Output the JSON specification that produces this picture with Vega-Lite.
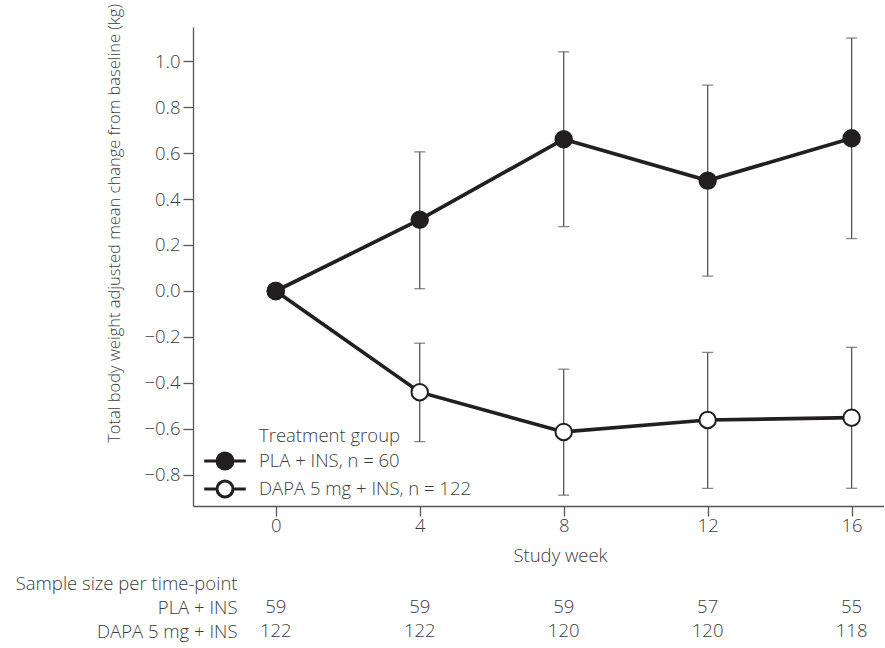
{
  "$schema": "https://vega.github.io/schema/vega-lite/v6.json",
  "padding": {"left": 15, "top": 3, "right": 0, "bottom": 0},
  "background": "white",
  "config": {
    "font": "Open Sans",
    "view": {"stroke": null},
    "axis": {
      "labelFont": "Open Sans", "labelFontSize": 18.5, "labelColor": "#3d3d3d", "labelFontWeight": 300, "labelLimit": 400,
      "titleFont": "Open Sans", "titleFontSize": 18.5, "titleColor": "#3d3d3d", "titleFontWeight": 300,
      "domainColor": "#555555", "tickColor": "#555555", "domainWidth": 1.3, "tickWidth": 1.3, "grid": false
    },
    "legend": {
      "labelFont": "Open Sans", "labelFontSize": 18.5, "labelColor": "#3d3d3d", "labelFontWeight": 300, "labelLimit": 400,
      "titleFont": "Open Sans", "titleFontSize": 18.5, "titleColor": "#3d3d3d", "titleFontWeight": 300
    },
    "concat": {"spacing": 6}
  },
  "datasets": {
    "means": [
      {"week": 0, "group": "DAPA 5 mg + INS, n = 122", "mean": 0.0, "lo": null, "hi": null},
      {"week": 4, "group": "DAPA 5 mg + INS, n = 122", "mean": -0.44, "lo": -0.655, "hi": -0.227},
      {"week": 8, "group": "DAPA 5 mg + INS, n = 122", "mean": -0.613, "lo": -0.888, "hi": -0.34},
      {"week": 12, "group": "DAPA 5 mg + INS, n = 122", "mean": -0.561, "lo": -0.858, "hi": -0.267},
      {"week": 16, "group": "DAPA 5 mg + INS, n = 122", "mean": -0.551, "lo": -0.858, "hi": -0.245},
      {"week": 0, "group": "PLA + INS, n = 60", "mean": 0.0, "lo": null, "hi": null},
      {"week": 4, "group": "PLA + INS, n = 60", "mean": 0.31, "lo": 0.01, "hi": 0.605},
      {"week": 8, "group": "PLA + INS, n = 60", "mean": 0.66, "lo": 0.28, "hi": 1.04},
      {"week": 12, "group": "PLA + INS, n = 60", "mean": 0.48, "lo": 0.065, "hi": 0.895},
      {"week": 16, "group": "PLA + INS, n = 60", "mean": 0.664, "lo": 0.228, "hi": 1.1}
    ],
    "samples": [
      {"week": 0, "row": "PLA + INS", "n": 59},
      {"week": 4, "row": "PLA + INS", "n": 59},
      {"week": 8, "row": "PLA + INS", "n": 59},
      {"week": 12, "row": "PLA + INS", "n": 57},
      {"week": 16, "row": "PLA + INS", "n": 55},
      {"week": 0, "row": "DAPA 5 mg + INS", "n": 122},
      {"week": 4, "row": "DAPA 5 mg + INS", "n": 122},
      {"week": 8, "row": "DAPA 5 mg + INS", "n": 120},
      {"week": 12, "row": "DAPA 5 mg + INS", "n": 120},
      {"week": 16, "row": "DAPA 5 mg + INS", "n": 118}
    ]
  },
  "vconcat": [
    {
      "width": 691,
      "height": 479,
      "data": {"name": "means"},
      "encoding": {
        "x": {
          "field": "week", "type": "quantitative",
          "scale": {"domain": [-2.3, 16.9], "nice": false, "zero": false},
          "axis": {"values": [0, 4, 8, 12, 16], "tickSize": 10, "labelPadding": 0, "title": "Study week", "titlePadding": 12, "titleX": 367}
        }
      },
      "layer": [
        {
          "transform": [{"filter": "isValid(datum.lo)"}],
          "mark": {"type": "errorbar", "color": "#555555", "thickness": 1.3, "ticks": {"size": 11, "color": "#555555", "thickness": 1.3}},
          "encoding": {
            "y": {"field": "lo", "type": "quantitative", "scale": {"domain": [-0.935, 1.148], "nice": false, "zero": false},
              "axis": {"values": [-0.8, -0.6, -0.4, -0.2, 0, 0.2, 0.4, 0.6, 0.8, 1.0], "format": ".1f", "tickSize": 10, "labelPadding": 3,
                "title": "Total body weight adjusted mean change from baseline (kg)", "titleFontSize": 16.5, "titleY": 196, "titlePadding": 21}},
            "y2": {"field": "hi"},
            "detail": {"field": "group"}
          }
        },
        {
          "mark": {"type": "line", "color": "#231f20", "strokeWidth": 3.7},
          "encoding": {
            "y": {"field": "mean", "type": "quantitative",
              "scale": {"domain": [-0.935, 1.148], "nice": false, "zero": false},
              "axis": {"values": [-0.8, -0.6, -0.4, -0.2, 0, 0.2, 0.4, 0.6, 0.8, 1.0], "format": ".1f", "tickSize": 10, "labelPadding": 3,
                "title": "Total body weight adjusted mean change from baseline (kg)", "titleFontSize": 16.5, "titleY": 196, "titlePadding": 21}},
            "detail": {"field": "group"}
          }
        },
        {
          "mark": {"type": "point", "shape": "circle", "filled": true, "size": 270, "stroke": "#231f20", "strokeWidth": 2, "opacity": 1},
          "encoding": {
            "y": {"field": "mean", "type": "quantitative", "title": "Total body weight adjusted mean change from baseline (kg)"},
            "fill": {
              "field": "group", "type": "nominal",
              "scale": {"domain": ["PLA + INS, n = 60", "DAPA 5 mg + INS, n = 122"], "range": ["#231f20", "#ffffff"]},
              "legend": {
                "title": "Treatment group",
                "orient": "none", "legendX": 66, "legendY": 400,
                "symbolType": "M-2.6,0L-1,0M1,0L2.6,0M-1,0A1,1 0 1,0 1,0A1,1 0 1,0 -1,0Z",
                "symbolSize": 256, "symbolStrokeColor": "#231f20", "symbolStrokeWidth": 3,
                "symbolOffset": -43.5, "labelOffset": 24.5, "rowPadding": -1, "titlePadding": 6
              }
            }
          }
        }
      ]
    },
    {
      "width": 691,
      "height": 72,
      "data": {"name": "samples"},
      "mark": {"type": "text", "font": "Open Sans", "fontSize": 18.5, "fontWeight": 300, "color": "#3d3d3d"},
      "encoding": {
        "x": {"field": "week", "type": "quantitative", "scale": {"domain": [-2.3, 16.9], "nice": false, "zero": false}, "axis": null},
        "y": {"field": "row", "type": "nominal",
          "scale": {"domain": ["Sample size per time-point", "PLA + INS", "DAPA 5 mg + INS"]},
          "axis": {"title": null, "domain": false, "ticks": false, "labelPadding": -44}},
        "text": {"field": "n", "type": "quantitative"}
      }
    }
  ]
}
